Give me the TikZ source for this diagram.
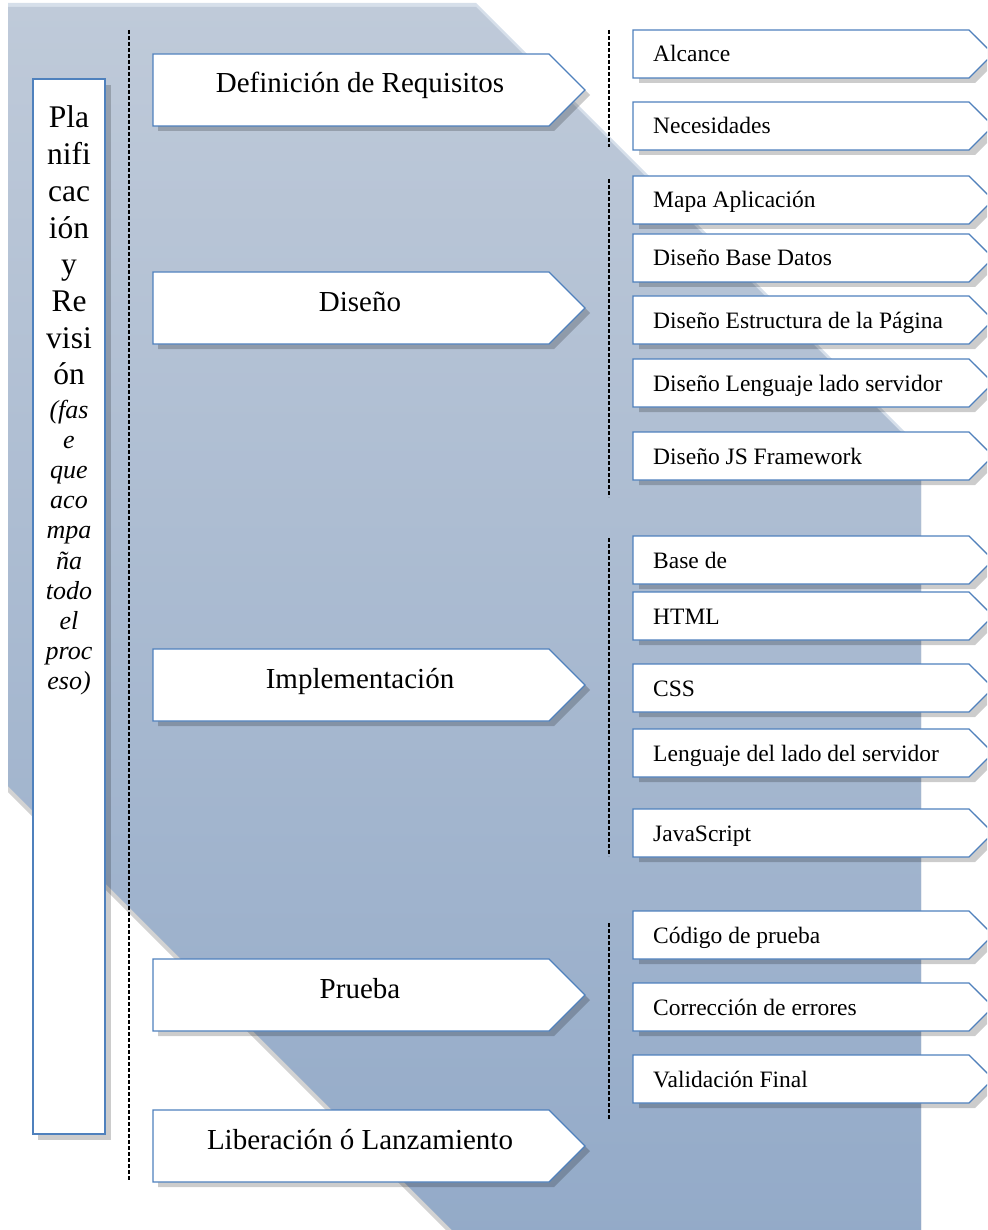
\documentclass[tikz,border=0pt]{standalone}
\usepackage{fontspec}
\setmainfont{Liberation Serif}
\definecolor{bgtop}{RGB}{191,202,217}
\definecolor{bgbot}{RGB}{147,170,200}
\definecolor{rimc}{RGB}{214,223,234}
\definecolor{bshadowc}{RGB}{210,210,210}
\definecolor{edgec}{RGB}{79,129,189}
\tikzset{
  boxline/.style={draw=edgec, line width=1.2pt, fill=white},
  boxshadow/.style={fill=black, fill opacity=0.2},
  sepline/.style={draw=black, line width=1.4pt, dash pattern=on 4pt off 2pt},
  phasetext/.style={font=\fontsize{29}{34}\selectfont, anchor=base, inner sep=0pt},
  itemtext/.style={font=\fontsize{23.5}{28}\selectfont, anchor=base west, inner sep=0pt},
}
\newcommand\phasebox[3]{%
  \begin{scope}[shift={(153,#2)}]
    \fill[boxshadow] (5,5) -- (401,5) -- (437,41) -- (401,77) -- (5,77) -- cycle;
    \draw[boxline] (0,0) -- (396,0) -- (432,36) -- (396,72) -- (0,72) -- cycle;
    \node[phasetext] (#1) at (207,39) {#3};
  \end{scope}}
\newcommand\itembox[3]{%
  \begin{scope}[shift={(633,#2)}]
    \fill[boxshadow] (6,5) -- (342,5) -- (366,29) -- (342,53) -- (6,53) -- cycle;
    \draw[boxline] (0,0) -- (336,0) -- (360,24) -- (336,48) -- (0,48) -- cycle;
    \node[itemtext] (#1) at (20,32) {#3};
  \end{scope}}
\begin{document}
\begin{tikzpicture}[x=1pt,y=-1pt]
\useasboundingbox (0,0) rectangle (987,1230);
\clip (0,0) rectangle (987,1230);
% background
\fill[bshadowc, yshift=-6pt] (8,7) -- (476,7) -- (921,452) -- (921,1240) -- (462,1240) -- (8,786) -- cycle;
\fill[rimc, yshift=4pt] (8,7) -- (476,7) -- (921,452) -- (921,1240) -- (462,1240) -- (8,786) -- cycle;
\shade[top color=bgtop, bottom color=bgbot] (8,7) -- (476,7) -- (921,452) -- (921,1240) -- (462,1240) -- (8,786) -- cycle;
% dashed separators
\draw[sepline] (129,30) -- (129,1180);
\draw[sepline] (609,30) -- (609,147);
\draw[sepline] (609,179) -- (609,497);
\draw[sepline] (609,538) -- (609,856);
\draw[sepline] (609,923) -- (609,1120);
% left box
\fill[boxshadow] (38,85) rectangle (111,1140);
\draw[boxline] (33,79) rectangle (105,1134);
\node[anchor=base, inner sep=0pt] (plan) at (69,128) {\parbox[t]{80pt}{\centering\fontsize{31.5}{36.7}\selectfont Pla\\nifi\\cac\\ión\\y\\Re\\visi\\ón\par\vspace{3pt}\itshape\fontsize{26}{30.2}\selectfont (fas\\e\\que\\aco\\mpa\\ña\\todo\\el\\proc\\eso)\par}};
% phases
\phasebox{req}{54}{Definición de Requisitos}
\phasebox{dis}{272}{Diseño}
\phasebox{imp}{649}{Implementación}
\phasebox{pru}{959}{Prueba}
\phasebox{lib}{1110}{Liberación ó Lanzamiento}
% items
\itembox{alc}{30}{Alcance}
\itembox{nec}{102}{Necesidades}
\itembox{map}{176}{Mapa Aplicación}
\itembox{dbd}{234}{Diseño Base Datos}
\itembox{dep}{296}{Diseño Estructura de la Página}
\itembox{dls}{359}{Diseño Lenguaje lado servidor}
\itembox{djs}{432}{Diseño JS Framework}
\itembox{bas}{536}{Base de}
\itembox{htm}{592}{HTML}
\itembox{css}{664}{CSS}
\itembox{lls}{729}{Lenguaje del lado del servidor}
\itembox{jsc}{809}{JavaScript}
\itembox{cod}{911}{Código de prueba}
\itembox{cor}{983}{Corrección de errores}
\itembox{val}{1055}{Validación Final}
\end{tikzpicture}
\end{document}
